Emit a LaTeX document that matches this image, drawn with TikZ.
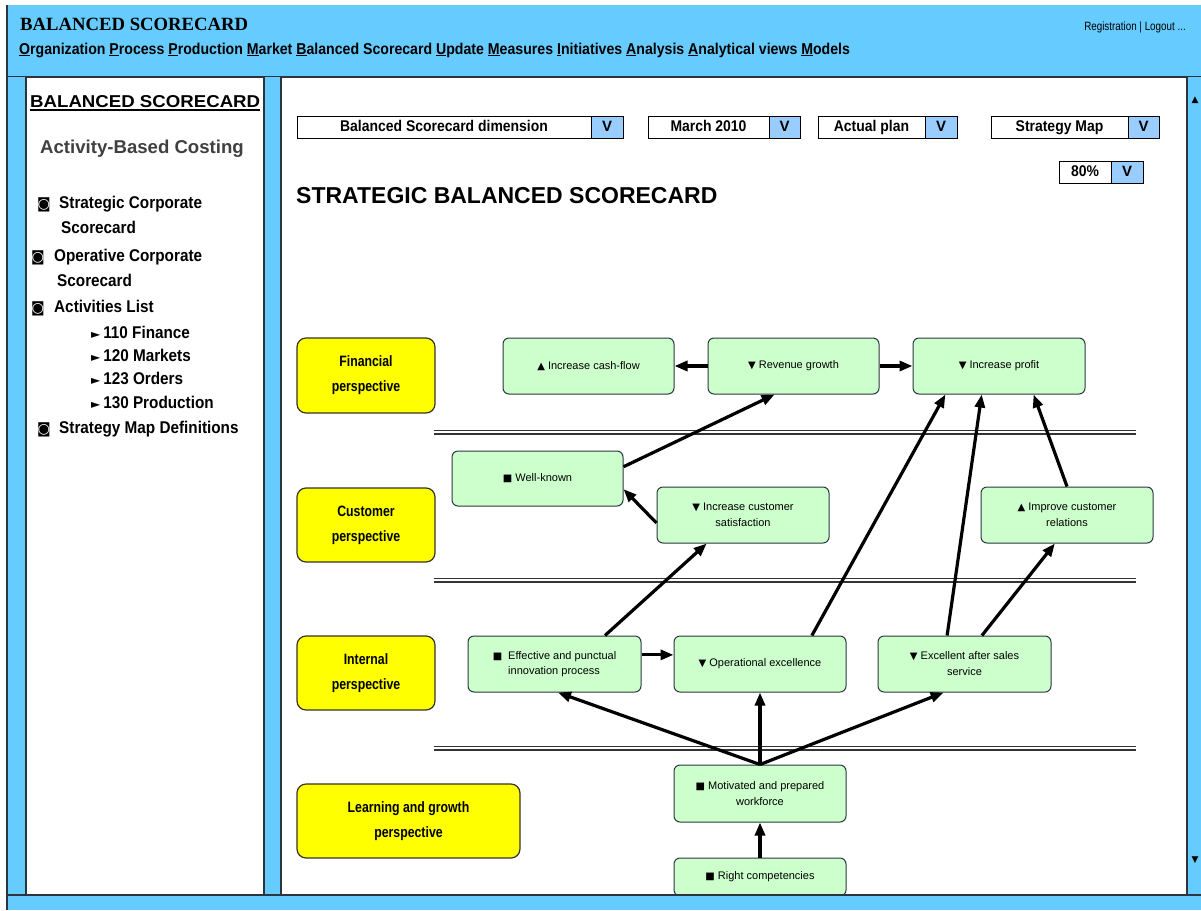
\documentclass[tikz,border=0pt]{standalone}
\usepackage{fontspec}
\setmainfont{Liberation Sans}
\newfontfamily\condf[FakeStretch=0.82]{Liberation Sans}
\newfontfamily\condg[FakeStretch=0.9]{Liberation Sans}
\newfontfamily\serf{Liberation Serif}
\newfontfamily\symf{DejaVu Sans}
\usetikzlibrary{arrows.meta,calc}
\definecolor{skyb}{HTML}{66CCFF}
\definecolor{btnb}{HTML}{99CCFF}
\definecolor{mint}{HTML}{CCFFCC}
\definecolor{ylw}{HTML}{FFFF00}
\definecolor{edge}{HTML}{2B3540}
\begin{document}
\begin{tikzpicture}[x=1pt,y=-1pt,
  gbox/.style={draw=edge, fill=mint, rounded corners=6pt, line width=1pt, minimum width=172pt, minimum height=56pt, inner sep=0pt, align=center, font=\fontsize{11}{16}\selectfont},
  ybox/.style={draw=black!80!olive, fill=ylw, rounded corners=9pt, line width=1.2pt, minimum width=138pt, minimum height=74pt, inner sep=0pt, align=center, font=\condf\bfseries\fontsize{15}{25}\selectfont},
  arr/.style={line width=3.2pt, -{Triangle[length=13pt,width=10pt]}},
  field/.style={draw=black, fill=white, line width=1pt, minimum height=22pt, inner sep=0pt, text height=11pt, text depth=3pt, font=\condg\bfseries\fontsize{15.5}{15.5}\selectfont},
  vbtn/.style={draw=black, fill=btnb, line width=1pt, minimum height=22pt, minimum width=32pt, inner sep=0pt, text height=11pt, text depth=3pt, font=\bfseries\fontsize{15}{15}\selectfont},
  lp/.style={anchor=base west, inner sep=0pt, font=\condg\bfseries\fontsize{17}{17}\selectfont},
  bul/.style={anchor=base west, inner sep=0pt, font=\symf\fontsize{14}{14}\selectfont},
  tri/.style={font=\symf\fontsize{12}{12}\selectfont},
  dline/.style={draw=black!80, line width=1.6pt, double=white, double distance=1.8pt},
  frame/.style={draw=edge, line width=1.5pt},
  sym/.style={font=\symf\fontsize{10}{10}\selectfont}
]
\useasboundingbox (0,0) rectangle (1201,910);
\fill[white] (0,0) rectangle (1201,910);
% header
\fill[skyb] (7,5) rectangle (1201,77);
\draw[frame, line width=2pt] (7,77) -- (1201,77);
\node[anchor=west, inner sep=0pt, font=\serf\bfseries\fontsize{18.7}{18.7}\selectfont] (apptitle) at (20,24) {BALANCED SCORECARD};
\node[anchor=west, inner sep=0pt, font=\condg\bfseries\fontsize{15.7}{16}\selectfont] (menu) at (19,50) {\underline{O}rganization \underline{P}rocess \underline{P}roduction \underline{M}arket \underline{B}alanced Scorecard \underline{U}pdate \underline{M}easures \underline{I}nitiatives \underline{A}nalysis \underline{A}nalytical views \underline{M}odels};
\node[anchor=east, inner sep=0pt, font=\condf\fontsize{12}{12}\selectfont] (login) at (1186,27) {Registration | Logout ...};
% strips
\fill[skyb] (7,77) rectangle (26,895);
\fill[skyb] (264,77) rectangle (281,897);
\fill[skyb] (1188,77) rectangle (1201,895);
\draw[frame] (26,77) -- (26,895);
\draw[frame] (264,77) -- (264,895);
\draw[frame] (281,77) -- (281,897);
\draw[frame] (1187,77) -- (1187,895);
\node[font=\symf\fontsize{9}{9}\selectfont, inner sep=0pt] (scrup) at (1195,100) {▲};
\node[font=\symf\fontsize{9}{9}\selectfont, inner sep=0pt] (scrdn) at (1195,860) {▼};
% left panel
\node[anchor=base west, inner sep=0pt] (lphead) at (30,107) {\resizebox{230pt}{12pt}{\bfseries B{\fontsize{10}{10}\selectfont ALANCED} S{\fontsize{10}{10}\selectfont CORECARD}}};
\draw[line width=1.2pt] (30,110) -- (260,110);
\node[anchor=base west, inner sep=0pt, text=black!75, font=\bfseries\fontsize{18.6}{18.6}\selectfont] (abc) at (40,153) {Activity-Based Costing};
\node[bul] (b1) at (37,208) {◙};
\node[lp] (l1) at (59,208) {Strategic Corporate};
\node[lp] (l1b) at (61,233) {Scorecard};
\node[bul] (b2) at (31,261) {◙};
\node[lp] (l2) at (54,261) {Operative Corporate};
\node[lp] (l2b) at (57,286) {Scorecard};
\node[bul] (b3) at (31,312) {◙};
\node[lp] (l3) at (54,312) {Activities List};
\node[lp] (a1) at (91,338) {{\symf\fontsize{12}{12}\selectfont ►}\,110 Finance};
\node[lp] (a2) at (91,361) {{\symf\fontsize{12}{12}\selectfont ►}\,120 Markets};
\node[lp] (a3) at (91,384) {{\symf\fontsize{12}{12}\selectfont ►}\,123 Orders};
\node[lp] (a4) at (91,408) {{\symf\fontsize{12}{12}\selectfont ►}\,130 Production};
\node[bul] (b4) at (37,433) {◙};
\node[lp] (l4) at (59,433) {Strategy Map Definitions};
% dropdowns
\node[field, minimum width=294pt] (d1) at (444,127) {Balanced Scorecard dimension};
\node[vbtn] (d1v) at (607,127) {V};
\node[field, minimum width=121pt] (d2) at (708.5,127) {March 2010};
\node[vbtn, minimum width=31pt] (d2v) at (784.5,127) {V};
\node[field, minimum width=107pt] (d3) at (871.5,127) {Actual plan};
\node[vbtn] (d3v) at (941,127) {V};
\node[field, minimum width=137pt] (d4) at (1059.5,127) {Strategy Map};
\node[vbtn, minimum width=31pt] (d4v) at (1143.5,127) {V};
\node[field, minimum width=52pt] (d5) at (1085,172) {80\%};
\node[vbtn] (d5v) at (1127,172) {V};
\node[anchor=west, inner sep=0pt, font=\bfseries\fontsize{23}{23}\selectfont] (title) at (296,196) {STRATEGIC BALANCED SCORECARD};
% perspectives
\node[ybox, minimum height=75pt] (fin) at (366,375.5) {Financial\\perspective};
\node[ybox] (cus) at (366,525) {Customer\\perspective};
\node[ybox] (int) at (366,673) {Internal\\perspective};
\node[ybox, minimum width=223pt] (lrn) at (408.5,821) {Learning and growth\\perspective};
% separators
\draw[dline] (434,432) -- (1136,432);
\draw[dline] (434,580) -- (1136,580);
\draw[dline] (434,748) -- (1136,748);
% objectives
\node[gbox, minimum width=171pt] (cash) at (588.5,366) {{\symf\fontsize{10}{10}\selectfont ▲}\ Increase cash-flow};
\node[gbox, minimum width=171pt] (rev) at (793.5,366) {{\symf\fontsize{10}{10}\selectfont ▼}\ Revenue growth};
\node[gbox] (profit) at (999,366) {{\symf\fontsize{10}{10}\selectfont ▼}\ Increase profit};
\node[gbox, minimum width=171pt, minimum height=55pt] (wk) at (537.5,478.5) {{\symf\fontsize{10}{10}\selectfont ■}\ Well-known};
\node[gbox] (sat) at (743,515) {{\symf\fontsize{10}{10}\selectfont ▼}\ Increase customer\\satisfaction};
\node[gbox] (rel) at (1067,515) {{\symf\fontsize{10}{10}\selectfont ▲}\ Improve customer\\relations};
\node[gbox, minimum width=173pt] (eff) at (554.5,664) {\begin{tabular}{@{}l@{\hspace{6pt}}l@{}}{\symf\fontsize{10}{10}\selectfont ■} & Effective and punctual\\[-1pt] & innovation process\end{tabular}};
\node[gbox] (opx) at (760,664) {{\symf\fontsize{10}{10}\selectfont ▼}\ Operational excellence};
\node[gbox, minimum width=173pt] (after) at (964.5,664) {{\symf\fontsize{10}{10}\selectfont ▼}\ Excellent after sales\\service};
\node[gbox, minimum height=57pt] (mot) at (760,793.5) {{\symf\fontsize{10}{10}\selectfont ■}\ Motivated and prepared\\workforce};
\node[gbox, minimum height=38pt] (right) at (760,877) {{\symf\fontsize{10}{10}\selectfont ■}\ Right competencies};
% connectors
\draw[arr] (rev.west) -- (cash.east);
\draw[arr] (rev.east) -- (profit.west);
\draw[arr] ($(wk.south east)!0.71!(wk.north east)$) -- ($(rev.south west)!0.39!(rev.south east)$);
\draw[arr] ($(sat.south west)!0.36!(sat.north west)$) -- ($(wk.south east)!0.31!(wk.north east)$);
\draw[arr] ($(eff.north west)!0.79!(eff.north east)$) -- ($(sat.south west)!0.29!(sat.south east)$);
\draw[arr] ($(eff.south east)!0.66!(eff.north east)$) -- ($(opx.south west)!0.66!(opx.north west)$);
\draw[arr] ($(opx.north west)!0.8!(opx.north east)$) -- ($(profit.south west)!0.19!(profit.south east)$);
\draw[arr] ($(after.north west)!0.4!(after.north east)$) -- ($(profit.south west)!0.4!(profit.south east)$);
\draw[arr] ($(after.north west)!0.6!(after.north east)$) -- ($(rel.south west)!0.43!(rel.south east)$);
\draw[arr] ($(rel.north west)!0.5!(rel.north east)$) -- ($(profit.south west)!0.7!(profit.south east)$);
\draw[arr] (mot.north) -- ($(eff.south west)!0.52!(eff.south east)$);
\draw[arr] (mot.north) -- (opx.south);
\draw[arr] (mot.north) -- ($(after.south west)!0.38!(after.south east)$);
\draw[arr] (right.north) -- (mot.south);
% bottom bar
\fill[skyb] (7,896) rectangle (1201,910);
\draw[frame] (7,895) -- (1201,895);
\draw[frame] (7,5) -- (7,910);
\end{tikzpicture}
\end{document}
